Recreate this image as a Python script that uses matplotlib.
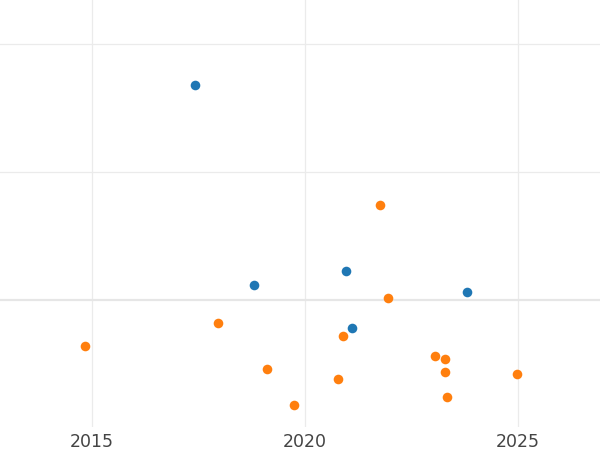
import matplotlib.pyplot as plt

# two series, x = year, y = value
blue_x = [2017.42, 2018.80, 2020.96, 2021.09, 2023.81]
blue_y = [1.68, 0.12, 0.227, -0.22, 0.06]

orange_x = [2014.84, 2017.96, 2019.11, 2019.73, 2020.76, 2020.89, 2021.76,
            2021.95, 2023.05, 2023.28, 2023.28, 2023.33, 2024.97]
orange_y = [-0.36, -0.18, -0.54, -0.82, -0.62, -0.28, 0.74,
            0.02, -0.44, -0.46, -0.56, -0.76, -0.58]

xticks = [2015, 2020, 2025]

fig = plt.figure(figsize=(6, 4.5), dpi=100)
ax = fig.add_axes([0, 0.051, 1, 0.949])

ax.set_xlim(2012.84, 2026.92)
ax.set_ylim(-0.992, 2.344)
ax.set_xticks(xticks)
ax.set_yticks([1, 2])
ax.set_yticklabels([])
ax.grid(True, color='#ebebeb', linewidth=0.9)
ax.axhline(0, color='#e6e6e6', linewidth=1.6, zorder=1)
ax.set_axisbelow(True)
for s in ax.spines.values():
    s.set_visible(False)
ax.tick_params(axis='both', length=0)
ax.tick_params(axis='x', labelsize=12.5, labelcolor='#444444', pad=4)

ax.scatter(blue_x, blue_y, s=48, color='#1f77b4', linewidths=0, zorder=3)
ax.scatter(orange_x, orange_y, s=48, color='#ff7f0e', linewidths=0, zorder=3)

fig.savefig('out.png', dpi=100)
